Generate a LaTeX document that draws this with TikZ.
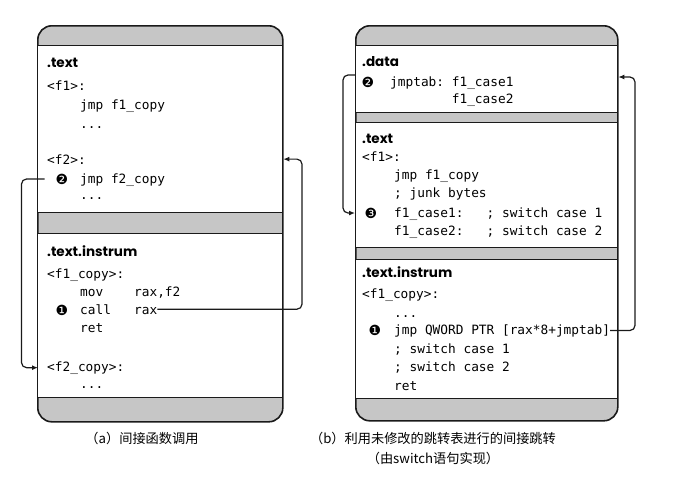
\documentclass[tikz,border=0pt]{standalone}
\usepackage{fontspec}
\usepackage{tikz}
\usepackage{xcolor}
\usetikzlibrary{arrows.meta,positioning,calc}
\setmonofont{DejaVu Sans Mono}
\newfontfamily\headfont{Poppins}
\newfontfamily\bulfont{DejaVu Sans}
\newfontfamily\cjkfont{Noto Sans CJK SC}
\definecolor{CapGray}{HTML}{C6C6C6}
\definecolor{InkBlack}{HTML}{1A1A1A}
\tikzset{
  panel/.style={draw=InkBlack, fill=CapGray, line width=1.6pt, rounded corners=14pt, inner sep=0pt, anchor=north west},
  sect/.style={draw=InkBlack, fill=white, line width=1.3pt, inner sep=0pt, anchor=north west},
  head/.style={anchor=base west, inner sep=0pt, font=\headfont\bfseries\fontsize{13.5}{14}\selectfont},
  code/.style={anchor=base west, inner sep=0pt, font=\ttfamily\fontsize{12.8}{14}\selectfont},
  bul/.style={inner sep=0pt, font=\bulfont\fontsize{14}{14}\selectfont},
  caption/.style={font=\cjkfont\fontsize{13.2}{20}\selectfont, align=center},
  link/.style={-{Latex[length=6pt,width=5pt]}, draw=InkBlack, line width=1.2pt, rounded corners=5pt}
}

\begin{document}
\begin{tikzpicture}[x=1pt, y=-1pt]
\useasboundingbox (0,0) rectangle (698,496);
% (a) indirect call
\node[panel, minimum width=245pt, minimum height=396pt] (panelA) at (37,25) {};
\node[sect, minimum width=245pt, minimum height=167pt] (textA) at (37,45) {};
\node[sect, minimum width=245pt, minimum height=164pt] (instrA) at (37,233) {};
\node[head] (hTextA) at (47,67) {.text};
\node[code] (f1A) at (47,90) {<f1>:};
\node[code] (jmpA) at (80,109) {jmp f1\_copy};
\node[code] (dotsA) at (80,128) {...};
\node[code] (f2A) at (47,164) {<f2>:};
\node[code] (jmp2A) at (80,183) {jmp f2\_copy};
\node[bul] (bul2A) at (62,179) {❷};
\node[code] (dots2A) at (80,199) {...};
\node[head] (hInsA) at (47,256) {.text.instrum};
\node[code] (f1cA) at (47,278) {<f1\_copy>:};
\node[code] (movA) at (80,296) {mov\ \ \ \ rax,f2};
\node[code] (callA) at (80,314) {call\ \ \ rax};
\node[bul] (bul1A) at (62,310) {❶};
\node[code] (retA) at (80,332) {ret};
\node[code] (f2cA) at (47,371) {<f2\_copy>:};
\node[code] (dots3A) at (80,388) {...};
\coordinate (loopA) at (302,0);
\draw[link] ($(bul2A.west)+(-11,0)$) -- ++(-23,0) |- ([xshift=-9pt]f2cA.west);
\draw[link] (callA.east) -| (loopA |- f2A) -- (textA.east |- f2A);
\node[caption] (capA) at (142,438) {（a）间接函数调用};

% (b) jump table
\node[panel, minimum width=262pt, minimum height=395pt] (panelB) at (355,25) {};
\node[sect, minimum width=262pt, minimum height=67pt] (dataB) at (355,45) {};
\node[sect, minimum width=262pt, minimum height=125pt] (textB) at (355,122) {};
\node[sect, minimum width=262pt, minimum height=139pt] (instrB) at (355,259) {};
\node[head] (hDataB) at (362,66) {.data};
\node[bul] (bul2B) at (368,82) {❷};
\node[code] (jmptabB) at (390,86) {jmptab: f1\_case1};
\node[code] (tab2B) at (390,103) {\phantom{jmptab: }f1\_case2};
\node[head] (hTextB) at (362,143) {.text};
\node[code] (f1B) at (362,161) {<f1>:};
\node[code] (jmpB) at (394,179) {jmp f1\_copy};
\node[code] (junkB) at (394,197) {; junk bytes};
\node[bul] (bul3B) at (371,213) {❸};
\node[code] (case1B) at (394,217) {f1\_case1:\ \ \ ; switch case 1};
\node[code] (case2B) at (394,235) {f1\_case2:\ \ \ ; switch case 2};
\node[head] (hInsB) at (362,277) {.text.instrum};
\node[code] (f1cB) at (362,298) {<f1\_copy>:};
\node[code] (dotsB) at (394,317) {...};
\node[bul] (bul1B) at (375,330) {❶};
\node[code] (jmpQB) at (394,334) {jmp QWORD PTR [rax*8+jmptab]};
\node[code] (sw1B) at (394,353) {; switch case 1};
\node[code] (sw2B) at (394,371) {; switch case 2};
\node[code] (retB) at (394,390) {ret};
\coordinate (loopB) at (635,0);
\draw[link] ($(dataB.west |- bul2B)+(0,-7)$) -- ++(-12,0) |- (textB.west |- bul3B);
\draw[link] (jmpQB.east) -| ($(loopB |- bul2B)+(0,-5)$) -- ($(dataB.east |- bul2B)+(0,-5)$);
\node[caption] (capB) at (433,448) {（b）利用未修改的跳转表进行的间接跳转\\（由switch语句实现）};
\end{tikzpicture}
\end{document}
